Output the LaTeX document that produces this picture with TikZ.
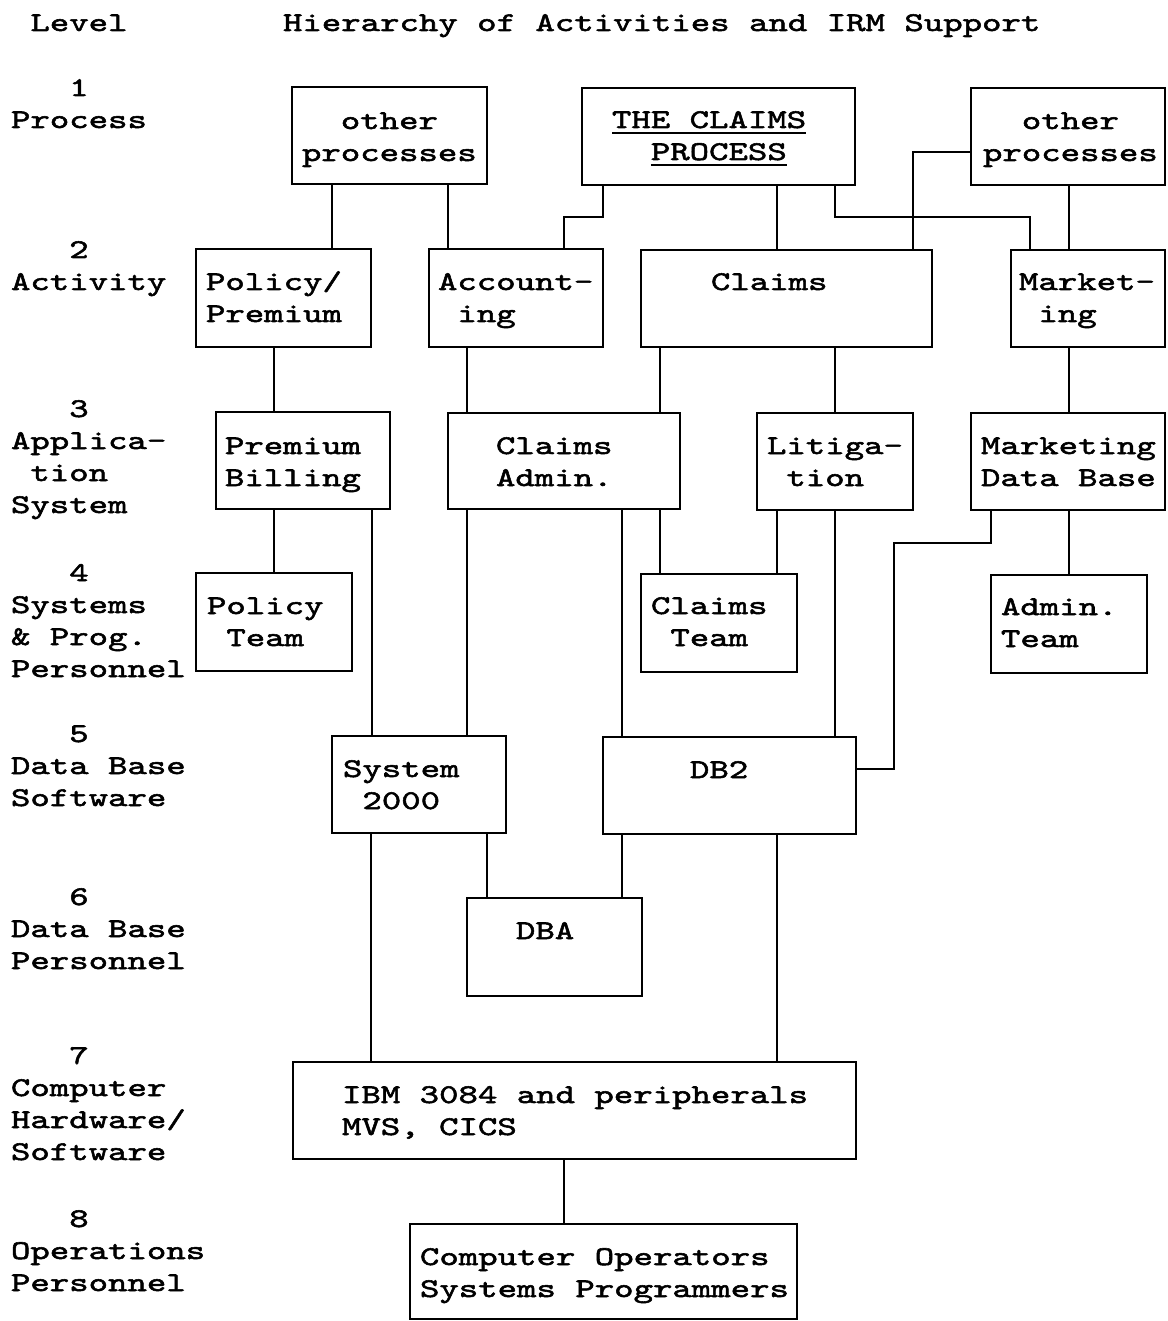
\documentclass[tikz,border=0pt]{standalone}
\usepackage{fontspec}
% widened, darkened typewriter face
\newfontfamily\typew{lmmono10-regular}[Extension=.otf, FakeStretch=1.37, FakeBold=2]

% one character cell of blank space
\newcommand\ind{\hphantom{0}}
% stacked lines, baseline of the node = baseline of the first line
\newcommand\lines[1]{\vtop{\halign{##\hfil\cr#1\crcr}}}
% underlined text
\newcommand\undl[1]{\setbox0=\hbox{#1}\rlap{\rule[-6pt]{\wd0}{2pt}}\box0}
% box given by left, top, right, bottom
\newcommand\bx[5]{\node[box, minimum width={#4-#2}, minimum height={#5-#3}] (#1) at ({(#2+#4)/2},{(#3+#5)/2}) {};}
% straight vertical connector at a given x between two boxes
\newcommand\vlink[3]{\draw[link] (#1,0 |- #2.south) -- (#1,0 |- #3.north);}

\begin{document}
\begin{tikzpicture}[x=1pt, y=-1pt,
  font=\typew\fontsize{27}{32}\selectfont\frenchspacing,
  box/.style={draw, line width=2.5pt, inner sep=0pt, outer sep=0pt},
  link/.style={line width=2pt},
  txt/.style={anchor=base west, inner sep=0pt, outer sep=0pt}]

\useasboundingbox (0,0) rectangle (1167,1321);
\fill[white] (0,0) rectangle (1167,1321);

% headings
\node[txt] (hdlevel) at (11,31) {\ind Level};
\node[txt] (hdtitle) at (283,31) {Hierarchy of Activities and IRM Support};

% level column
\node[txt] (lv1) at (11,96)   {\lines{\ind\ind\ind 1\cr Process}};
\node[txt] (lv2) at (11,258)  {\lines{\ind\ind\ind 2\cr Activity}};
\node[txt] (lv3) at (11,417)  {\lines{\ind\ind\ind 3\cr Applica-\cr\ind tion\cr System}};
\node[txt] (lv4) at (11,581)  {\lines{\ind\ind\ind 4\cr Systems\cr \& Prog.\cr Personnel}};
\node[txt] (lv5) at (11,742)  {\lines{\ind\ind\ind 5\cr Data Base\cr Software}};
\node[txt] (lv6) at (11,905)  {\lines{\ind\ind\ind 6\cr Data Base\cr Personnel}};
\node[txt] (lv7) at (11,1064) {\lines{\ind\ind\ind 7\cr Computer\cr Hardware/\cr Software}};
\node[txt] (lv8) at (11,1227) {\lines{\ind\ind\ind 8\cr Operations\cr Personnel}};

% level 1: processes
\bx{op1}{292}{87}{487}{184}
\bx{tcp}{582}{88}{855}{185}
\bx{op2}{971}{88}{1165}{185}
\node[txt] (op1t) at (302,129) {\lines{\ind\ind other\cr processes}};
\node[txt] (tcpt) at (612,128) {\lines{\undl{THE CLAIMS}\cr\ind\ind\undl{PROCESS}}};
\node[txt] (op2t) at (983,129) {\lines{\ind\ind other\cr processes}};

% level 2: activities
\bx{pp}{196}{249}{371}{347}
\bx{acc}{429}{249}{603}{347}
\bx{clm}{641}{250}{932}{347}
\bx{mkt}{1011}{250}{1165}{347}
\node[txt] (ppt)  at (206,290) {\lines{Policy/\cr Premium}};
\node[txt] (acct) at (438,290) {\lines{Account-\cr\ind ing}};
\node[txt] (clmt) at (711,290) {Claims};
\node[txt] (mktt) at (1019,290) {\lines{Market-\cr\ind ing}};

% level 3: application systems
\bx{pb}{216}{412}{390}{509}
\bx{ca}{448}{413}{680}{509}
\bx{lit}{757}{413}{913}{510}
\bx{mdb}{971}{413}{1165}{510}
\node[txt] (pbt)  at (225,454) {\lines{Premium\cr Billing}};
\node[txt] (cat)  at (496,454) {\lines{Claims\cr Admin.}};
\node[txt] (litt) at (767,454) {\lines{Litiga-\cr\ind tion}};
\node[txt] (mdbt) at (981,454) {\lines{Marketing\cr Data Base}};

% level 4: systems and programming teams
\bx{pt}{196}{573}{352}{671}
\bx{ct}{641}{574}{797}{672}
\bx{at}{991}{575}{1147}{673}
\node[txt] (ptt) at (207,614)  {\lines{Policy\cr\ind Team}};
\node[txt] (ctt) at (651,614)  {\lines{Claims\cr\ind Team}};
\node[txt] (att) at (1001,615) {\lines{Admin.\cr Team}};

% level 5: data base software
\bx{s2k}{332}{736}{506}{833}
\bx{db2}{603}{737}{856}{834}
\node[txt] (s2kt) at (343,777) {\lines{System\cr\ind 2000}};
\node[txt] (db2t) at (690,778) {DB2};

% level 6: data base personnel
\bx{dba}{467}{898}{642}{996}
\node[txt] (dbat) at (516,939) {DBA};

% level 7: hardware
\bx{ibm}{293}{1062}{856}{1159}
\node[txt] (ibmt) at (342,1103) {\lines{IBM 3084 and peripherals\cr MVS, CICS}};

% level 8: operations
\bx{ops}{410}{1224}{797}{1319}
\node[txt] (opst) at (420,1265) {\lines{Computer Operators\cr Systems Programmers}};

% connectors, level 1 to 2
\vlink{332}{op1}{pp}
\vlink{448}{op1}{acc}
\draw[link] (603,0 |- tcp.south) -- (603,217) -| (564,0 |- acc.north);
\vlink{777}{tcp}{clm}
\draw[link] (835,0 |- tcp.south) -- (835,217) -| (1030,0 |- mkt.north);
\draw[link] (op2.west |- 0,152) -| (913,0 |- clm.north);
\vlink{1069}{op2}{mkt}

% level 2 to 3
\vlink{274}{pp}{pb}
\vlink{467}{acc}{ca}
\vlink{660}{clm}{ca}
\vlink{835}{clm}{lit}
\vlink{1069}{mkt}{mdb}

% level 3 downwards
\vlink{274}{pb}{pt}
\vlink{372}{pb}{s2k}
\vlink{467}{ca}{s2k}
\vlink{622}{ca}{db2}
\vlink{660}{ca}{ct}
\vlink{777}{lit}{ct}
\vlink{835}{lit}{db2}
\draw[link] (991,0 |- mdb.south) -- (991,543) -| (894,769) -- (db2.east |- 0,769);
\vlink{1069}{mdb}{at}

% level 5 downwards
\vlink{371}{s2k}{ibm}
\vlink{487}{s2k}{dba}
\vlink{622}{db2}{dba}
\vlink{777}{db2}{ibm}
\vlink{564}{ibm}{ops}

\end{tikzpicture}
\end{document}
